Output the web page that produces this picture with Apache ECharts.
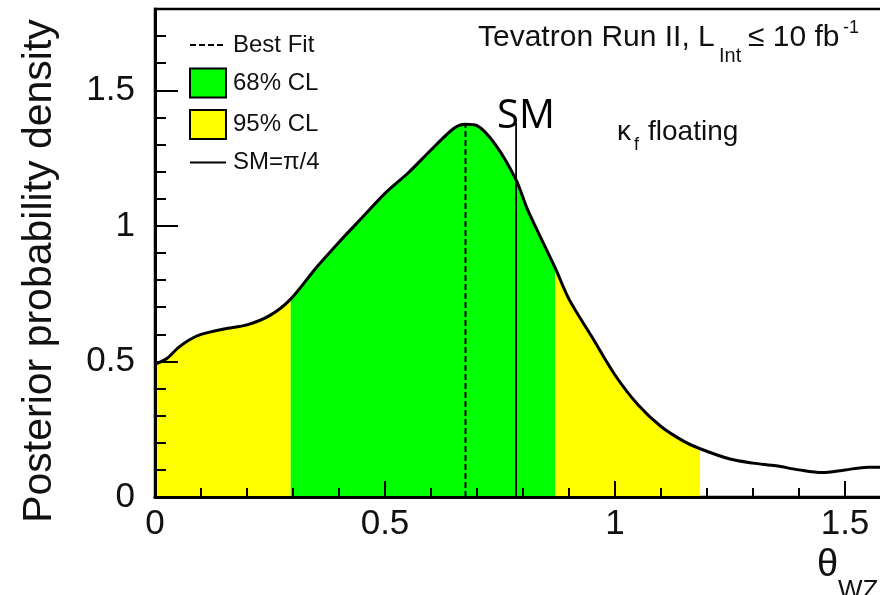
<!DOCTYPE html>
<html><head><meta charset="utf-8">
<script src="https://cdn.jsdelivr.net/npm/echarts@6/dist/echarts.min.js"></script>
<style>html,body{margin:0;padding:0;background:#fff}#c{width:880px;height:595px}</style>
</head><body><div id="c"></div>
<script>
// ---- data ----
const theta   = [0, 0.025, 0.05, 0.075, 0.1, 0.15, 0.2, 0.25, 0.295, 0.35, 0.4, 0.45, 0.5, 0.55, 0.6, 0.65, 0.675, 0.7, 0.74, 0.785, 0.81, 0.87, 0.9, 0.95, 1.0, 1.05, 1.1, 1.15, 1.185, 1.25, 1.3, 1.35, 1.4, 1.45, 1.5, 1.55, 1.6];
const density = [0.49, 0.51, 0.55, 0.58, 0.60, 0.62, 0.635, 0.67, 0.73, 0.845, 0.94, 1.03, 1.12, 1.195, 1.28, 1.36, 1.375, 1.37, 1.30, 1.17, 1.06, 0.845, 0.73, 0.59, 0.45, 0.34, 0.26, 0.205, 0.178, 0.14, 0.125, 0.115, 0.10, 0.09, 0.10, 0.11, 0.11];
const cl95Low  = [0, 0.295];
const cl68     = [0.295, 0.87];
const cl95High = [0.87, 1.185];
const bestFit = 0.675, bestFitTop = 1.375;
const smValue = 0.785, smTop = 1.38;
const xRange = [0, 1.6];
const yRange = [0, 1.8];
const legendNames = ['Best Fit', '68% CL', '95% CL', 'SM=π/4'];

function band(r) {
  const out = [];
  theta.forEach((t, i) => { if (t >= r[0] - 1e-9 && t <= r[1] + 1e-9) out.push([t, density[i]]); });
  return out;
}
const curve = theta.map((t, i) => [t, density[i]]);

const FONT = 'Liberation Sans';
const TXT = '#111';
const chart = echarts.init(document.getElementById('c'), null, {renderer: 'canvas'});

function fillSeries(name, r, color) {
  return {
    name, type: 'line', data: band(r), smooth: 0.3, symbol: 'none', silent: true,
    color, lineStyle: {width: 0}, areaStyle: {color, opacity: 1}, z: 1
  };
}

chart.setOption({
  animation: false,
  backgroundColor: '#fff',
  textStyle: {fontFamily: FONT},
  grid: {left: 155, top: 9, width: 736, height: 488, show: true, borderColor: '#000', borderWidth: 2.5,
         backgroundColor: 'transparent', containLabel: false, outerBoundsMode: 'none'},
  xAxis: [
    {type: 'value', min: xRange[0], max: xRange[1], interval: 0.5, position: 'bottom', z: 10,
     axisLine: {show: true, onZero: false, lineStyle: {color: '#000', width: 3}},
     axisTick: {show: true, inside: true, length: 16, lineStyle: {color: '#000', width: 2}},
     axisLabel: {show: true, fontSize: 35, color: TXT, margin: 10, showMaxLabel: false, fontFamily: FONT},
     splitLine: {show: false}},
    {type: 'value', min: xRange[0], max: xRange[1], interval: 0.1, position: 'bottom', z: 10,
     axisLine: {show: false, onZero: false},
     axisTick: {show: true, inside: true, length: 9, lineStyle: {color: '#000', width: 2}},
     axisLabel: {show: false}, splitLine: {show: false}}
  ],
  yAxis: [
    {type: 'value', min: yRange[0], max: yRange[1], interval: 0.5, position: 'left', z: 10,
     axisLine: {show: true, onZero: false, lineStyle: {color: '#000', width: 3}},
     axisTick: {show: true, inside: true, length: 23, lineStyle: {color: '#000', width: 2}},
     axisLabel: {show: true, fontSize: 35, color: TXT, margin: 20, showMaxLabel: false, fontFamily: FONT},
     splitLine: {show: false}},
    {type: 'value', min: yRange[0], max: yRange[1], interval: 0.1, position: 'left', offset: 0, z: 10,
     axisLine: {show: false, onZero: false},
     axisTick: {show: true, inside: true, length: 11, lineStyle: {color: '#000', width: 2}},
     axisLabel: {show: false}, splitLine: {show: false}}
  ],
  legend: {
    orient: 'vertical', left: 189, top: 33, padding: 0, itemWidth: 36, itemHeight: 29, itemGap: 10.5,
    selectedMode: false,
    textStyle: {fontSize: 24, color: TXT, fontFamily: FONT, padding: [0, 0, 0, 2]},
    data: [
      {name: legendNames[0], itemStyle: {color: 'transparent', borderWidth: 0, opacity: 0}, lineStyle: {color: '#000', width: 2, type: [6, 3]}},
      {name: legendNames[1], icon: 'rect', itemStyle: {color: '#00ff00', borderColor: '#000', borderWidth: 2}},
      {name: legendNames[2], icon: 'rect', itemStyle: {color: '#ffff00', borderColor: '#000', borderWidth: 2}},
      {name: legendNames[3], itemStyle: {color: 'transparent', borderWidth: 0, opacity: 0}, lineStyle: {color: '#000', width: 2}}
    ]
  },
  series: [
    fillSeries(legendNames[2], cl95Low, '#ffff00'),
    fillSeries(legendNames[1], cl68, '#00ff00'),
    fillSeries(legendNames[2], cl95High, '#ffff00'),
    {name: legendNames[0], type: 'line', data: [[bestFit, 0], [bestFit, bestFitTop]], symbol: 'none', silent: true,
     color: '#000', lineStyle: {color: '#000', width: 2, type: [6, 3]}, z: 3},
    {name: legendNames[3], type: 'line', data: [[smValue, 0], [smValue, smTop]], symbol: 'none', silent: true,
     color: '#000', lineStyle: {color: '#000', width: 1.8}, z: 3},
    {name: 'Posterior', type: 'line', data: curve, smooth: 0.3, symbol: 'none', silent: true,
     color: '#000', lineStyle: {color: '#000', width: 3}, z: 4}
  ],
  graphic: [
    {type: 'text', x: 40, y: 271, rotation: Math.PI / 2,
     style: {text: 'Posterior probability density', font: '41px ' + FONT, fill: TXT, align: 'center', verticalAlign: 'middle'}},
    {type: 'text', x: 478, y: 38, style: {text: 'Tevatron Run II, L', font: '30px ' + FONT, fill: TXT, align: 'left', verticalAlign: 'middle'}},
    {type: 'text', x: 719, y: 56, style: {text: 'Int', font: '20px ' + FONT, fill: TXT, align: 'left', verticalAlign: 'middle'}},
    {type: 'text', x: 748, y: 38, style: {text: '≤ 10 fb', font: '30px ' + FONT, fill: TXT, align: 'left', verticalAlign: 'middle'}},
    {type: 'text', x: 843, y: 28, style: {text: '-1', font: '18px ' + FONT, fill: TXT, align: 'left', verticalAlign: 'middle'}},
    {type: 'text', x: 617, y: 132, style: {text: 'κ', font: '28px ' + FONT, fill: TXT, align: 'left', verticalAlign: 'middle'}},
    {type: 'text', x: 634, y: 145, style: {text: 'f', font: '18px ' + FONT, fill: TXT, align: 'left', verticalAlign: 'middle'}},
    {type: 'text', x: 648, y: 132, style: {text: 'floating', font: '28px ' + FONT, fill: TXT, align: 'left', verticalAlign: 'middle'}},
    {type: 'text', x: 526, y: 117, style: {text: 'SM', font: '40px "Open Sans"', fill: '#000', align: 'center', verticalAlign: 'middle'}},
    {type: 'text', x: 817, y: 566, style: {text: 'θ', font: '38px ' + FONT, fill: TXT, align: 'left', verticalAlign: 'middle'}},
    {type: 'text', x: 838, y: 591, style: {text: 'WZ', font: '26px ' + FONT, fill: TXT, align: 'left', verticalAlign: 'middle'}}
  ]
});
</script></body></html>
